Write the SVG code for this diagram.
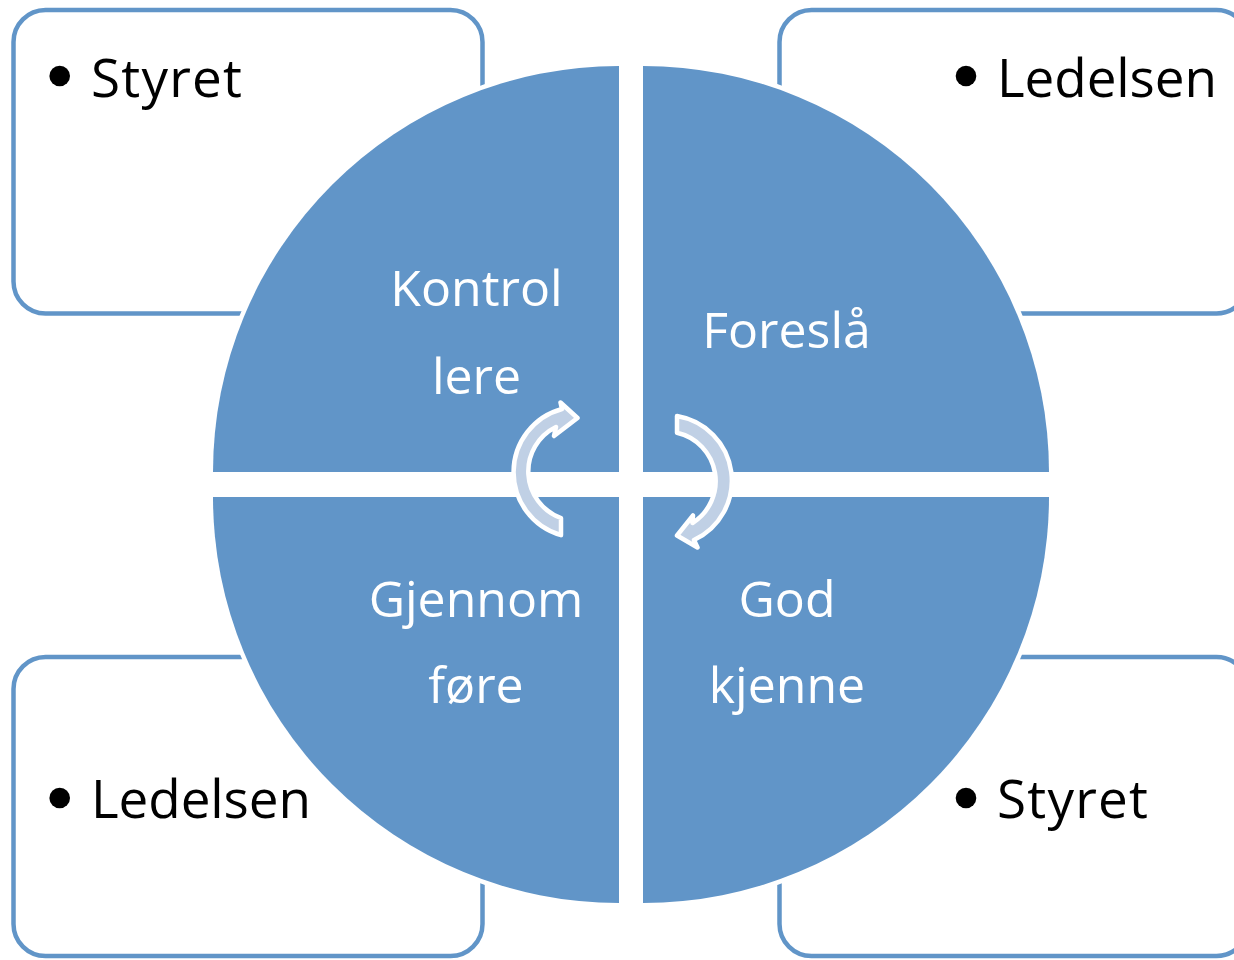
<svg xmlns="http://www.w3.org/2000/svg" width="1234" height="960" viewBox="0 0 1234 960">
  <style>
    .box { fill: #ffffff; stroke: #6195C8; stroke-width: 4.5; }
    .bul { fill: #000000; }
    .btxt { font-family: "Open Sans", "Noto Sans", sans-serif; font-size: 53px; fill: #000000; }
    .q { fill: #6195C8; stroke: #ffffff; stroke-width: 9; paint-order: stroke; }
    .qtxt { font-family: "Open Sans", "Noto Sans", sans-serif; font-size: 50px; fill: #ffffff; text-anchor: middle; }
    .arr { fill: #C0D0E5; stroke: #ffffff; stroke-width: 4.5; stroke-linejoin: round; }
  </style>
  <rect width="1234" height="960" fill="#ffffff"/>

  <g id="box-top-left">
    <rect class="box" x="13.5" y="10" width="469" height="303.5" rx="32" ry="32"/>
    <circle class="bul" cx="59.7" cy="76" r="10.3"/>
    <text class="btxt" x="91" y="97" textLength="151">Styret</text>
  </g>
  <g id="box-top-right">
    <rect class="box" x="779.5" y="10" width="469" height="303.5" rx="32" ry="32"/>
    <circle class="bul" cx="966" cy="76" r="10.3"/>
    <text class="btxt" x="997" y="97" textLength="220">Ledelsen</text>
  </g>
  <g id="box-bottom-left">
    <rect class="box" x="13.5" y="657" width="469" height="299" rx="32" ry="32"/>
    <circle class="bul" cx="59.7" cy="798" r="10.3"/>
    <text class="btxt" x="91" y="818" textLength="220">Ledelsen</text>
  </g>
  <g id="box-bottom-right">
    <rect class="box" x="779.5" y="657" width="469" height="299" rx="32" ry="32"/>
    <circle class="bul" cx="966" cy="798" r="10.3"/>
    <text class="btxt" x="997" y="818" textLength="151">Styret</text>
  </g>

  <g id="quadrant-kontrollere">
    <path class="q" d="M619,472 L213,472 A406,406 0 0 1 619,66 Z"/>
    <text class="qtxt" x="476.5" y="306">Kontrol</text>
    <text class="qtxt" x="476.5" y="394">lere</text>
  </g>
  <g id="quadrant-foresla">
    <path class="q" d="M643,472 L643,66 A406,406 0 0 1 1049,472 Z"/>
    <text class="qtxt" x="786.5" y="348">Foreslå</text>
  </g>
  <g id="quadrant-godkjenne">
    <path class="q" d="M643,497 L1049,497 A406,406 0 0 1 643,903 Z"/>
    <text class="qtxt" x="787" y="617">God</text>
    <text class="qtxt" x="787" y="703">kjenne</text>
  </g>
  <g id="quadrant-gjennomfore">
    <path class="q" d="M619,497 L619,903 A406,406 0 0 1 213,497 Z"/>
    <text class="qtxt" x="476" y="617">Gjennom</text>
    <text class="qtxt" x="476" y="703">føre</text>
  </g>

  <g id="connectors">
    <path class="arr" d="M561,535.2 A65.5,65.5 0 0 1 562,409 L560.5,402.5 L577.5,418 L554,436 L556,427 A49.5,49.5 0 0 0 561,518 Z"/>
    <path class="arr" d="M677,416 A65.5,65.5 0 0 1 694,540 L697.5,547.5 L677,535.5 L693,515.5 L692.5,523 A49.5,49.5 0 0 0 677,432.8 Z"/>
  </g>
</svg>
